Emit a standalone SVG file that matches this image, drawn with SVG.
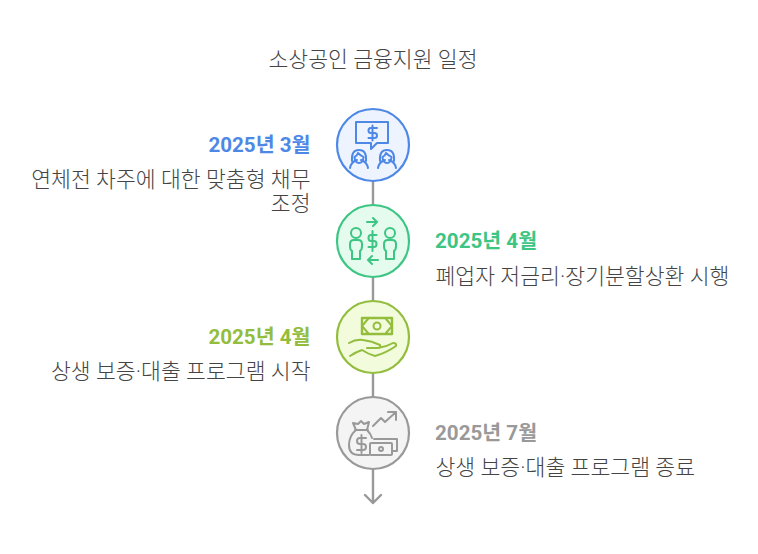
<svg xmlns="http://www.w3.org/2000/svg" width="758" height="554" viewBox="0 0 758 554">
<style>
text{font-family:Roboto,"Noto Sans CJK KR",sans-serif}
.t{font-size:21.6px;fill:#444;font-weight:300}
.h{font-size:20.6px;font-weight:700}
.e{text-anchor:end}
.c{stroke-width:2.2}
.i{fill:none;stroke-width:2;stroke-linecap:round;stroke-linejoin:round}
.line{fill:none;stroke:#999;stroke-width:2.4;stroke-linecap:round;stroke-linejoin:round}
</style>
<rect width="758" height="554" fill="#fff"/>
<text id="title" x="373" y="67" text-anchor="middle" class="t">소상공인 금융지원 일정</text>
<g id="connectors">
<path class="line" d="M373 181V205M373 277V301M373 373V397M373 469V503M365 495L373 503L381 495"/>
</g>
<g id="n1">
<circle class="c" cx="373" cy="145" r="36" fill="#edf3ff" stroke="#4e88e7"/>
<g class="i" stroke="#4e88e7">
<path d="M356 122H388V143H377L371 149V143H356Z"/>
<path d="M377 128H370.500Q368.500 128 368.500 130.500T371 133H374.500Q377 133 377 135.500T374.500 138H368.500M372.500 125.500V140.500"/>
<path d="M350 168Q351 162 357 160M368 168Q367 162 361 160M352 161Q351 150 359 150Q367 150 366 161M354.500 157Q355 163 359 163Q363 163 363.500 157Q360 155 358 153Q357 156 354.500 157Z"/>
<path d="M378 168Q379 162 385 160M396 168Q395 162 389 160M380 161Q379 150 387 150Q395 150 394 161M382.500 157Q383 163 387 163Q391 163 391.500 157Q388 155 386 153Q385 156 382.500 157Z"/>
</g>
</g>
<g id="n2">
<circle class="c" cx="373" cy="241" r="36" fill="#e4fbee" stroke="#3cc583"/>
<g class="i" stroke="#3cc583">
<path d="M367 222H377M373 218L377 222L373 226M368 260H378M372 256L368 260L372 264"/>
<path d="M376.500 235H371Q368.500 235 368.500 238T371 241H374Q376.500 241 376.500 244T374 247H368.500M372.500 231V251"/>
<circle cx="356" cy="233" r="5"/><circle cx="390" cy="233" r="5"/>
<path d="M352 259V251Q350 250 350 246V244Q350 240 354 240H358Q362 240 362 244V246Q362 250 360 251V259Z"/>
<path d="M386 259V251Q384 250 384 246V244Q384 240 388 240H392Q396 240 396 244V246Q396 250 394 251V259Z"/>
</g>
</g>
<g id="n3">
<circle class="c" cx="373" cy="337" r="36" fill="#f2fcdc" stroke="#93bd3c"/>
<g class="i" stroke="#93bd3c">
<rect x="362" y="318" width="30" height="16" stroke-width="2.4"/>
<path d="M362 326L368 319M362 326L368 333M392 326L386 319M392 326L386 333"/>
<circle cx="377" cy="326" r="3.500"/>
<path d="M349 343Q356 339 363 340Q372 341 380 345Q381 348 378 348H367M378 348Q386 347 393 343Q397 343 396 346Q386 353 375 356Q368 354 362 350Q356 352 350 356"/>
</g>
</g>
<g id="n4">
<circle class="c" cx="373" cy="433" r="36" fill="#f4f4f4" stroke="#999"/>
<g class="i" stroke="#999">
<path d="M373 426L381 418L385 422L396 412M388 412H396V420"/>
<path d="M356 430L353 423L358 424L361 421L364 424L369 422L367 430ZM355 430H368M356 430Q349 436 349 445Q349 455 359 455H369M367 430Q371 434 372 438"/>
<path d="M366 438H360Q357 438 357 441T360 444H363Q366 444 366 447T363 450H357M361.500 435V453"/>
<rect x="370" y="443" width="22" height="12" rx="1"/>
<path d="M374 439H397V451H392"/>
<circle cx="381" cy="449" r="2"/>
</g>
</g>
<g id="label1">
<text x="310.500" y="152" class="h e" fill="#4e88e7">2025년 3월</text>
<text x="310.500" y="187" class="t e">연체전 차주에 대한 맞춤형 채무</text>
<text x="310.500" y="211" class="t e">조정</text>
</g>
<g id="label2">
<text x="435" y="248" class="h" fill="#3cc583">2025년 4월</text>
<text x="435.500" y="284" class="t">폐업자 저금리·장기분할상환 시행</text>
</g>
<g id="label3">
<text x="310.500" y="344" class="h e" fill="#93bd3c">2025년 4월</text>
<text x="310.500" y="379" class="t e">상생 보증·대출 프로그램 시작</text>
</g>
<g id="label4">
<text x="435" y="440" class="h" fill="#999">2025년 7월</text>
<text x="435.500" y="475" class="t">상생 보증·대출 프로그램 종료</text>
</g>
</svg>
